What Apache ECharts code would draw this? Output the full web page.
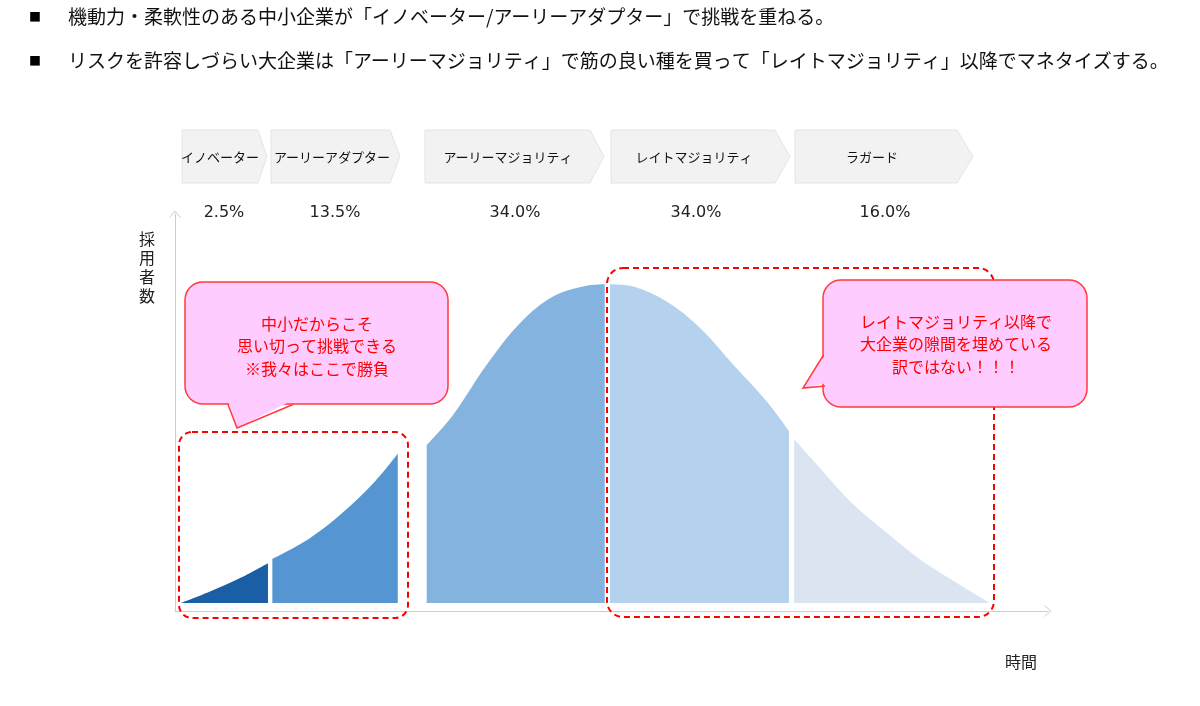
<!DOCTYPE html>
<html>
<head>
    <meta charset="UTF-8">
    <title>イノベーター理論</title>
    <script src="https://cdn.jsdelivr.net/npm/echarts@6.0.0/dist/echarts.min.js"></script>
    <style>
        html, body {margin: 0; padding: 0; background: #fff;}
        #chart {width: 1200px; height: 706px;}
    </style>
</head>
<body>
    <div id="chart"></div>

    <script>
        // 採用者区分と構成比
        const phases = ['イノベーター', 'アーリーアダプター', 'アーリーマジョリティ', 'レイトマジョリティ', 'ラガード'];
        const shares = ['2.5%', '13.5%', '34.0%', '34.0%', '16.0%'];

        // 曲線（[時間, 採用者数]）— 区分ごと
        const innovators     = [[0.65, 0], [3.8, 2.7], [7.6, 6.4], [10.6, 9.9]];
        const earlyAdopters  = [[11.1, 11.0], [15.2, 15.9], [19.0, 22.3], [22.8, 30.3], [25.4, 37.2]];
        const earlyMajority  = [[28.7, 39.4], [31.7, 46.9], [35.5, 59.3], [39.3, 69.7], [43.1, 76.4], [46.9, 79.1], [49.0, 79.5]];
        const lateMajority   = [[49.6, 79.5], [52.3, 78.9], [56.1, 75.1], [59.9, 68.5], [63.7, 59.3], [67.5, 50.2], [70.0, 42.9]];
        const laggards       = [[70.6, 40.9], [73.4, 34.0], [77.2, 24.9], [81.0, 17.8], [84.8, 11.1], [88.6, 5.7], [92.9, 0]];

        const headlines = [
            '機動力・柔軟性のある中小企業が「イノベーター/アーリーアダプター」で挑戦を重ねる。',
            'リスクを許容しづらい大企業は「アーリーマジョリティ」で筋の良い種を買って「レイトマジョリティ」以降でマネタイズする。'
        ];
        const noteLeft = '中小だからこそ\n思い切って挑戦できる\n※我々はここで勝負';
        const noteRight = 'レイトマジョリティ以降で\n大企業の隙間を埋めている\n訳ではない！！！';

        const segColors = ['#1a5ea5', '#5596d2', '#84b3e0', '#b4d2ee', '#dae5f1'];
        const cjk = '"Noto Sans CJK JP", "Noto Sans CJK SC", sans-serif';

        const chart = echarts.init(document.getElementById('chart'));

        const arrowPath = 'path://M0,7 L6,0 L12,7 L11,7 L6,1.2 L1,7 Z';
        const axisCommon = {
            type: 'value',
            axisTick: {show: false},
            axisLabel: {show: false},
            splitLine: {show: false},
            axisLine: {
                show: true,
                onZero: false,
                symbol: ['none', arrowPath],
                symbolSize: [12, 7],
                lineStyle: {color: '#cccccc', width: 1}
            }
        };

        const makeSeg = (name, data, color) => ({
            name: name,
            type: 'line',
            data: data,
            smooth: 0.35,
            symbol: 'none',
            silent: true,
            lineStyle: {opacity: 0},
            areaStyle: {color: color, opacity: 1}
        });

        // 見出し（シェブロン）
        const chevrons = [[182, 258, 267], [271, 390, 400], [425, 590, 604], [611, 775, 790], [795, 957, 973]];
        const headerCenters = [220, 332, 508, 694, 872];
        const shareCenters = [224, 335, 515, 696, 885];

        const graphics = [];
        headlines.forEach((t, i) => {
            graphics.push({type: 'text', left: 29, top: 11 + i * 44, z: 100,
                style: {text: '■', fontSize: 12, fill: '#000', fontFamily: cjk}});
            graphics.push({type: 'text', left: 68, top: 7 + i * 44, z: 100,
                style: {text: t, fontSize: 19, fill: '#111', fontFamily: cjk}});
        });
        chevrons.forEach((c, i) => {
            graphics.push({type: 'polygon', z: 100,
                shape: {points: [[c[0], 130], [c[1], 130], [c[2], 156.5], [c[1], 183], [c[0], 183]]},
                style: {fill: '#f2f2f2', stroke: '#e4e4e4', lineWidth: 1}});
            graphics.push({type: 'text', z: 101, x: headerCenters[i], y: 157,
                style: {text: phases[i], fontSize: 13, fill: '#111', fontFamily: cjk, align: 'center', verticalAlign: 'middle'}});
            graphics.push({type: 'text', z: 101, x: shareCenters[i], y: 213,
                style: {text: shares[i], fontSize: 16, fill: '#222', fontFamily: '"DejaVu Sans", sans-serif', align: 'center', verticalAlign: 'middle'}});
        });

        // 軸ラベル
        graphics.push({type: 'text', z: 100, x: 147, y: 229,
            style: {text: '採\n用\n者\n数', fontSize: 16, lineHeight: 19, fill: '#222', fontFamily: cjk, align: 'center'}});
        graphics.push({type: 'text', z: 100, x: 1021, y: 662,
            style: {text: '時間', fontSize: 16, fill: '#222', fontFamily: cjk, align: 'center', verticalAlign: 'middle'}});

        // 点線の囲み
        const dash = {fill: 'none', stroke: '#ff0000', lineWidth: 2, lineDash: [6, 4]};
        graphics.push({type: 'rect', z: 110, shape: {x: 179, y: 432, width: 229, height: 186, r: 13}, style: dash});
        graphics.push({type: 'rect', z: 110, shape: {x: 607, y: 268, width: 387, height: 349, r: 16}, style: dash});

        // 吹き出し
        const bubble = (box, tailFill, tailLine, text, cx, ty) => {
            const pink = '#ffccff', red = '#ff3b3b';
            graphics.push({type: 'rect', z: 120, shape: {x: box[0], y: box[1], width: box[2], height: box[3], r: 18},
                style: {fill: pink, stroke: red, lineWidth: 1.5}});
            graphics.push({type: 'polygon', z: 121, shape: {points: tailFill}, style: {fill: pink}});
            graphics.push({type: 'polyline', z: 122, shape: {points: tailLine}, style: {stroke: red, lineWidth: 1.5, fill: null}});
            graphics.push({type: 'text', z: 123, x: cx, y: ty,
                style: {text: text, fontSize: 16, lineHeight: 22.5, fill: '#ff0000', fontFamily: cjk, align: 'center', verticalAlign: 'middle'}});
        };
        bubble([185, 282, 263, 122], [[228, 400], [237, 428], [293, 400]], [[228, 404.5], [237, 428], [293, 404.5]], noteLeft, 317, 346);
        bubble([823, 280, 264, 127], [[827, 352], [803, 388], [827, 383]], [[823.5, 355], [803, 388], [825, 386]], noteRight, 956, 344);

        chart.setOption({
            animation: false,
            grid: {left: 175, right: 152, top: 214, bottom: 95},
            xAxis: Object.assign({}, axisCommon, {min: 0, max: 99.54}),
            yAxis: Object.assign({}, axisCommon, {min: -2, max: 97}),
            series: [
                makeSeg(phases[0], innovators, segColors[0]),
                makeSeg(phases[1], earlyAdopters, segColors[1]),
                makeSeg(phases[2], earlyMajority, segColors[2]),
                makeSeg(phases[3], lateMajority, segColors[3]),
                makeSeg(phases[4], laggards, segColors[4])
            ],
            graphic: graphics
        });
    </script>
</body>
</html>
